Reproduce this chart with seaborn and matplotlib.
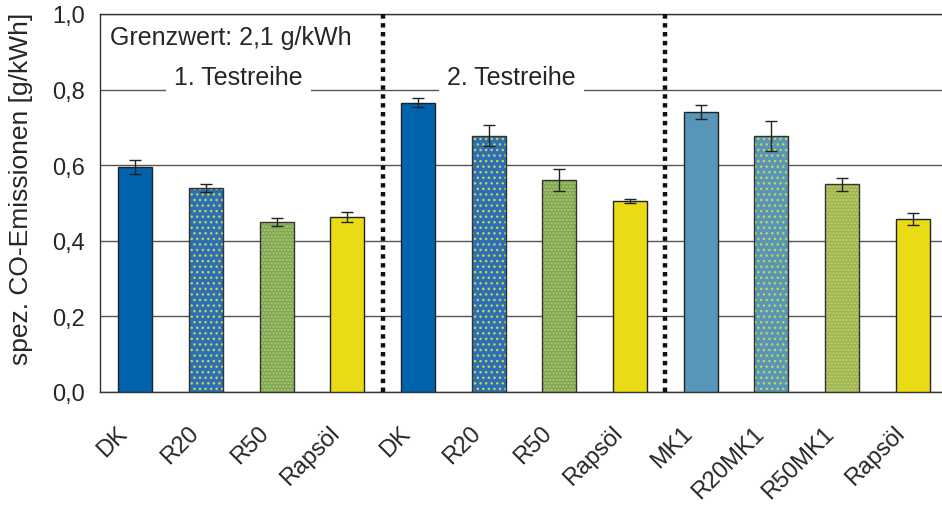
import numpy as np
import pandas as pd
import matplotlib
matplotlib.use("Agg")
import matplotlib.pyplot as plt
import seaborn as sns
from matplotlib.patches import Rectangle
from matplotlib.transforms import ScaledTranslation

# data
labels = ["DK", "R20", "R50", "Rapsöl",
          "DK", "R20", "R50", "Rapsöl",
          "MK1", "R20MK1", "R50MK1", "Rapsöl"]
values = [0.595, 0.539, 0.449, 0.462,
          0.765, 0.678, 0.561, 0.506,
          0.740, 0.677, 0.549, 0.458]
errors = [0.018, 0.010, 0.011, 0.013,
          0.012, 0.028, 0.030, 0.005,
          0.018, 0.040, 0.016, 0.016]
face_colors = ["#0063AE", "#2C6FB6", "#7AA666", "#E9DC14",
               "#0063AE", "#2C6FB6", "#7AA666", "#E9DC14",
               "#5795B9", "#5795B9", "#98B662", "#E9DC14"]
hatches = [None, "...", ".....", None,
           None, "...", ".....", None,
           None, "...", ".....", None]
hatch_colors = [None, "#C6D64C", "#C4CC44", None,
                None, "#C6D64C", "#C4CC44", None,
                None, "#C6D64C", "#D2D244", None]
group_names = ["1. Testreihe", "2. Testreihe"]
group_text_x = [1.46, 5.32]
separators = [3.5, 7.5]

df = pd.DataFrame({"id": [f"{i}" for i in range(len(labels))],
                   "value": values})

sns.set_style("white")
plt.rcParams["font.family"] = ["Liberation Sans", "DejaVu Sans"]
plt.rcParams["hatch.linewidth"] = 1.0

fig = plt.figure(figsize=(9.42, 5.06), dpi=100)
ax = fig.add_axes([100 / 942, 1 - 393 / 506, 848 / 942, 378 / 506])

sns.barplot(data=df, x="id", y="value", hue="id", palette=face_colors,
            saturation=1, legend=False, width=0.48, edgecolor="#222222",
            linewidth=1.0, ax=ax, zorder=3)

for i, p in enumerate(ax.patches[:len(labels)]):
    if hatches[i]:
        p.set_hatch(hatches[i])
        p.set_edgecolor(hatch_colors[i])
        p.set_linewidth(0)
        outline = Rectangle((p.get_x(), p.get_y()), p.get_width(), p.get_height(),
                            fill=False, edgecolor="#333333", linewidth=1.0, zorder=4)
        ax.add_patch(outline)

ax.errorbar(np.arange(len(labels)), values, yerr=errors, fmt="none",
            ecolor="#222222", elinewidth=1.0, capsize=4, capthick=1.0, zorder=5)

ax.set_ylim(0, 1.0)
ax.set_xlim(-0.5, len(labels) - 0.5)
ax.set_yticks(np.arange(0, 1.01, 0.2))
ax.set_yticklabels([f"{t:.1f}".replace(".", ",") for t in np.arange(0, 1.01, 0.2)],
                   fontsize=17)
ax.yaxis.grid(True, color="#555555", linewidth=1.0, zorder=0)
ax.set_axisbelow(True)

ax.set_xticks(np.arange(len(labels)))
ax.set_xticklabels(labels, rotation=45, ha="right", va="center",
                   rotation_mode="anchor", fontsize=17)
ax.tick_params(axis="x", which="major", length=0, pad=27)
shift = ScaledTranslation(-11 / 100, 0, fig.dpi_scale_trans)
for lab in ax.get_xticklabels():
    lab.set_transform(lab.get_transform() + shift)
ax.set_xticks(np.arange(len(labels) - 1) + 0.5, minor=True)
ax.tick_params(axis="x", which="minor", length=6, color="#333333", direction="out")
ax.tick_params(axis="y", length=6, color="#333333", direction="out", pad=5)

ax.set_xlabel("")
ax.set_ylabel("spez. CO-Emissionen [g/kWh]", fontsize=19)
ax.yaxis.set_label_coords(-0.079, 0.54)

for s in ["left", "bottom", "top"]:
    ax.spines[s].set_color("#333333")
    ax.spines[s].set_linewidth(1.0)
ax.spines["right"].set_visible(False)

for sx in separators:
    ax.axvline(sx, color="#111111", linewidth=3.2, linestyle=(0, (1.0, 1.0)), zorder=6)

ax.text(0.012, 0.94, "Grenzwert: 2,1 g/kWh", transform=ax.transAxes,
        fontsize=18, va="center", ha="left", zorder=7)
for gx, name in zip(group_text_x, group_names):
    ax.text(gx, 0.834, name, fontsize=18, ha="center", va="center", zorder=4,
            bbox=dict(facecolor="white", edgecolor="none", pad=6))

fig.savefig("out.png", dpi=100)
